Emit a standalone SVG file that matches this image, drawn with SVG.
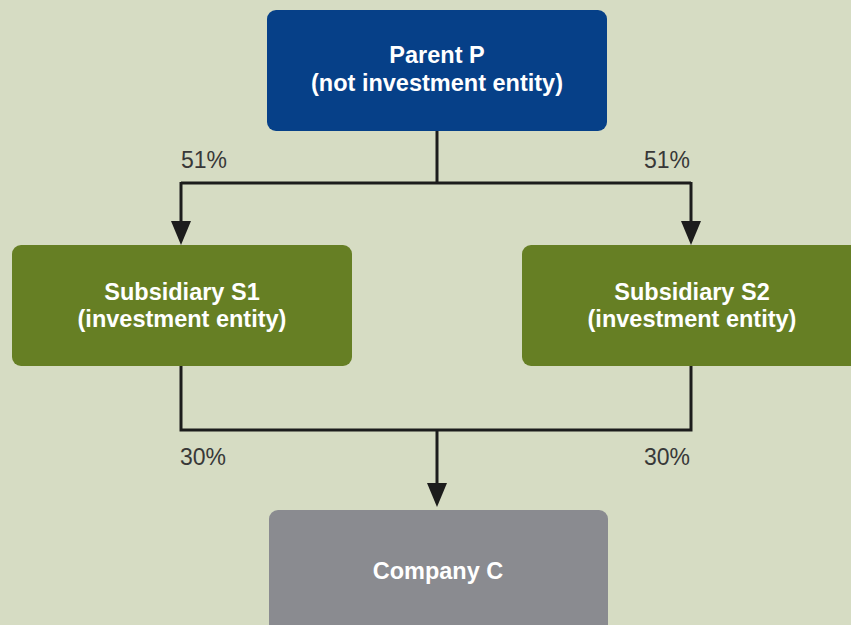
<svg xmlns="http://www.w3.org/2000/svg" width="851" height="625" viewBox="0 0 851 625">
<defs>
<style>
.bg{fill:#d6dcc3}
.box{stroke:none}
.blue{fill:#064088}
.green{fill:#667f24}
.gray{fill:#8a8b90}
.t{font-family:"Liberation Sans",Arial,sans-serif;font-weight:bold;font-size:23.5px;fill:#ffffff;text-anchor:middle}
.pct{font-family:"Liberation Sans",Arial,sans-serif;font-size:23px;fill:#383838}
.ln{fill:none;stroke:#1c1c1c;stroke-width:3}
</style>
</defs>
<rect class="bg" x="0" y="0" width="851" height="625"/>
<g id="connectors">
<path class="ln" d="M437,131 V183"/>
<path class="ln" d="M181,183 H691"/>
<path class="ln" d="M181,182 V222"/>
<path class="ln" d="M691,182 V222"/>
<polygon points="171,221 191,221 181,245" fill="#1c1c1c"/>
<polygon points="681,221 701,221 691,245" fill="#1c1c1c"/>
<path class="ln" d="M181,366 V430 H691 V366"/>
<path class="ln" d="M437,430 V484"/>
<polygon points="427,483 447,483 437,507" fill="#1c1c1c"/>
<text class="pct" x="181" y="168">51%</text>
<text class="pct" x="644" y="168">51%</text>
<text class="pct" x="180" y="465">30%</text>
<text class="pct" x="644" y="465">30%</text>
</g>
<g id="parent">
<rect class="box blue" x="267" y="10" width="340" height="121" rx="9"/>
<text class="t" x="437" y="63">Parent P</text>
<text class="t" x="437" y="91">(not investment entity)</text>
</g>
<g id="s1">
<rect class="box green" x="12" y="245" width="340" height="121" rx="9"/>
<text class="t" x="182" y="300">Subsidiary S1</text>
<text class="t" x="182" y="327">(investment entity)</text>
</g>
<g id="s2">
<rect class="box green" x="522" y="245" width="340" height="121" rx="9"/>
<text class="t" x="692" y="300">Subsidiary S2</text>
<text class="t" x="692" y="327">(investment entity)</text>
</g>
<g id="companyC">
<rect class="box gray" x="269" y="510" width="339" height="130" rx="9"/>
<text class="t" x="438" y="579">Company C</text>
</g>
</svg>
